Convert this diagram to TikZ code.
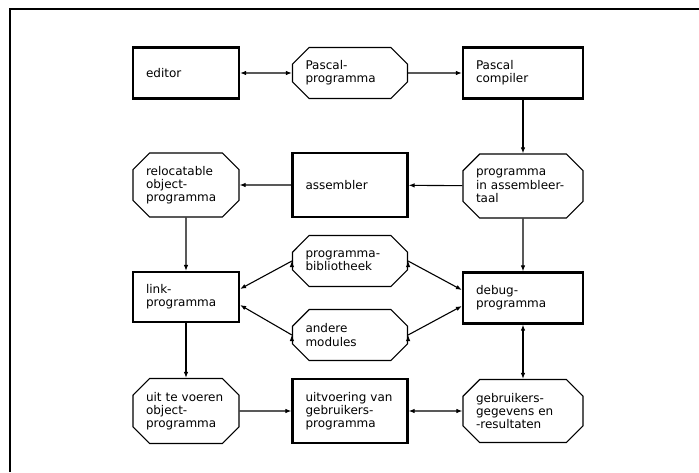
\documentclass[tikz,border=0pt]{standalone}
\usepackage{fontspec}
\setmainfont{DejaVu Sans}
\usetikzlibrary{shapes.misc,arrows.meta}

\begin{document}
\begin{tikzpicture}[x=1pt, y=-1pt,
  font=\fontsize{12}{13.3}\selectfont,
  >={Latex[length=6pt,width=4.5pt]},
  box/.style 2 args={draw, rectangle, line width=2.2pt, text width=#1, minimum height=#2, inner xsep=13pt, align=left},
  octa/.style 2 args={draw, chamfered rectangle, chamfered rectangle xsep=13pt, line width=1.2pt, text width=#1, minimum height=#2, inner xsep=0pt, align=left},
  conn/.style={line width=1.1pt}]
\useasboundingbox (0,0) rectangle (699,472);
\draw[line width=1.3pt] (10,472) -- (10,9) -- (699,9);

\node[box={80pt}{51pt}] (v1) at (186,73) {editor};
\node[octa={89pt}{51pt}] (v2) at (350,73) {Pascal-\\programma};
\node[box={94pt}{51pt}] (v3) at (523,73) {Pascal\\compiler};

\node[octa={80pt}{64pt}] (v4) at (186,185) {relocatable\\object-\\programma};
\node[box={89pt}{64pt}] (v5) at (350,185) {assembler};
\node[octa={94pt}{64pt}] (v6) at (523,186) {programma\\in assembleer-\\taal};

\node[box={80pt}{50pt}] (v7) at (186,297) {link-\\programma};
\node[octa={89pt}{51pt}] (v8) at (350,261) {programma-\\bibliotheek};
\node[octa={89pt}{51pt}] (v9) at (350,335) {andere\\modules};
\node[box={94pt}{51pt}] (v10) at (523,298) {debug-\\programma};

\node[octa={80pt}{65pt}] (v11) at (186,411) {uit te voeren\\object-\\programma};
\node[box={89pt}{64pt}] (v12) at (350,411) {uitvoering van\\gebruikers-\\programma};
\node[octa={94pt}{63pt}] (v13) at (523,411) {gebruikers-\\gegevens en\\-resultaten};

\draw[<->, conn] (v1) edge (v2);
\draw[->, conn] (v2) edge (v3);
\draw[->, conn] (v3) edge (v6);
\draw[->, conn] (v6) edge (v5);
\draw[->, conn] (v5) edge (v4);
\draw[->, conn] (v4) edge (v7);
\draw[->, conn] (v6) edge (v10);

\draw[->, conn] (v8.west) edge ([yshift=8pt]v7.east);
\draw[->, conn] (v9.west) edge ([yshift=-8pt]v7.east);
\draw[->, conn] (v8.east) edge ([yshift=8pt]v10.west);
\draw[->, conn] (v9.east) edge ([yshift=-8pt]v10.west);

\draw[->, conn] (v7) edge (v11);
\draw[->, conn] (v11) edge (v12);
\draw[<->, conn] (v12) edge (v13);
\draw[<->, conn] (v10) edge (v13);

\end{tikzpicture}
\end{document}
